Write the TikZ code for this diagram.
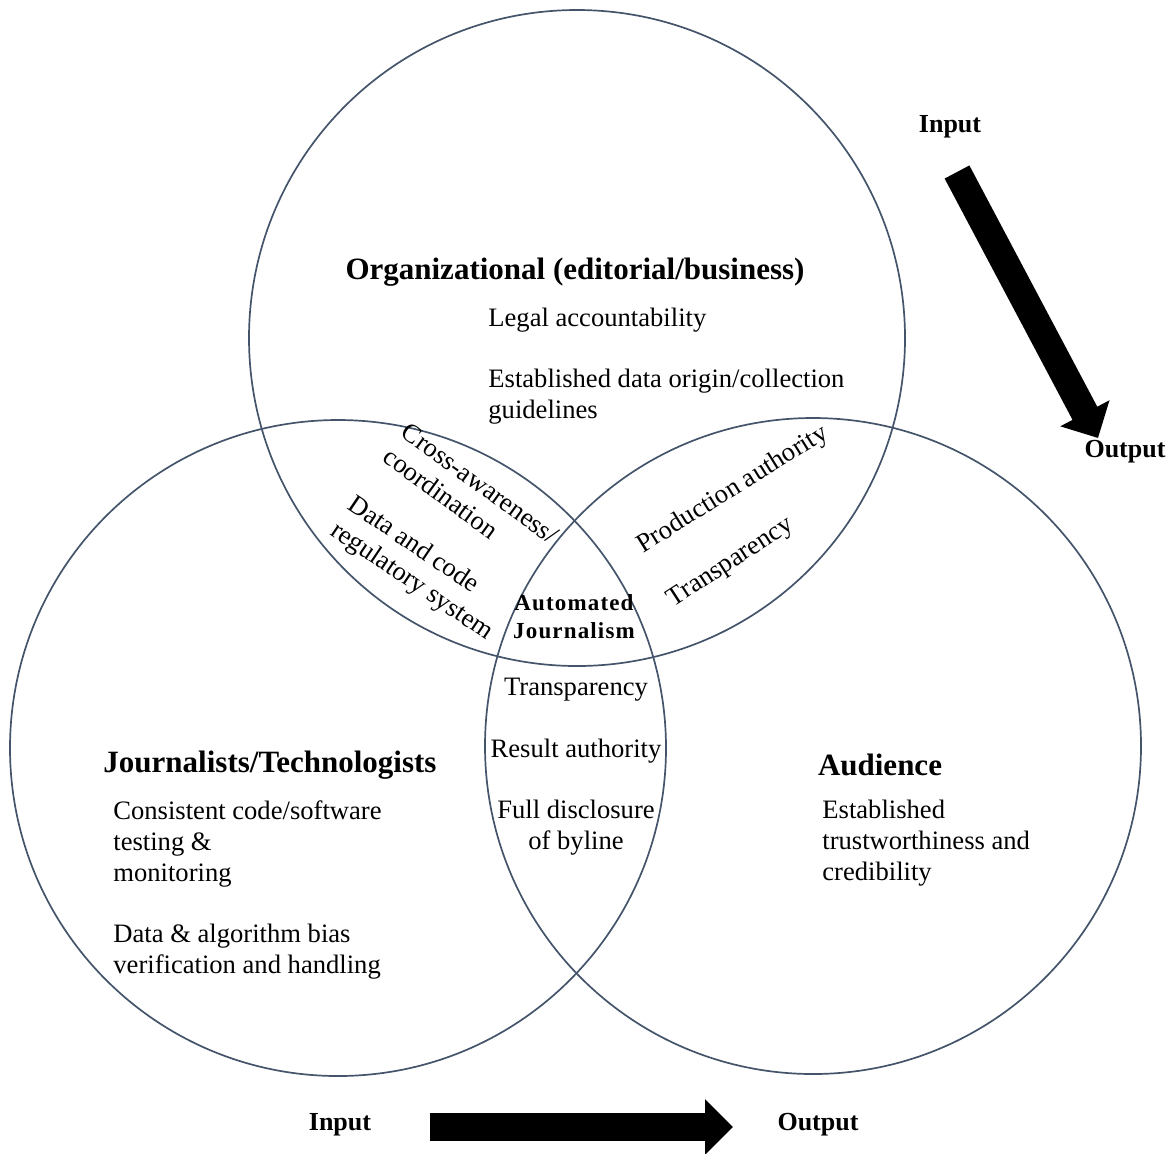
\documentclass[tikz,border=0pt]{standalone}
\usepackage{fontspec}
\setmainfont{Liberation Serif}
\usepackage{tikz}
\usetikzlibrary{arrows.meta,positioning}
\definecolor{venncol}{HTML}{44546A}
\tikzset{
	venn/.style={draw=venncol, line width=0.85pt},
	head/.style={font=\fontsize{15.5}{18}\selectfont\bfseries, inner sep=0pt},
	io/.style={font=\fontsize{13}{15}\selectfont\bfseries, inner sep=0pt},
	item/.style={font=\fontsize{13.3}{15.5}\selectfont, align=left, inner sep=0pt},
	mid/.style={item, align=center},
	core/.style={font=\fontsize{11.5}{14}\selectfont\bfseries\addfontfeature{LetterSpace=5},
		align=center, inner sep=0pt},
	bigarrow/.style={line width=14pt, -{Triangle[length=14pt,width=27pt]}}
}

\begin{document}
\begin{tikzpicture}[x=0.5pt, y=-0.5pt]
   \useasboundingbox (0,0) rectangle (1176,1153);
   \coordinate (org) at (577,338);
   \coordinate (jou) at (338,748);
   \coordinate (aud) at (813,746);
   \foreach \c in {org,jou,aud}
      \draw[venn] (\c) circle[radius=164pt];

   \node[head] (orgT) at (575,272) {Organizational (editorial/business)};
   \node[item, anchor=north west] (legal) at (488,308) {Legal accountability};
   \node[item, anchor=north west] (origin) at (488,369) {Established data origin/collection\\guidelines};

   \node[head] (jouT) at (270,765) {Journalists/Technologists};
   \node[item, anchor=north west] (testing) at (113,800) {Consistent code/software\\testing \&\\monitoring};
   \node[item, anchor=north west] (bias) at (113,924) {Data \& algorithm bias\\verification and handling};

   \node[head] (audT) at (880,765) {Audience};
   \node[item, anchor=north west] (trust) at (822,800) {Established\\trustworthiness and\\credibility};

   \node[item, rotate=-36] (cross) at (471,496) {Cross-awareness/\\coordination};
   \node[item, rotate=-34] (regul) at (420,569) {Data and code\\regulatory system};
   \node[item, rotate=32] (prod) at (733,490) {Production authority};
   \node[item, rotate=33] (transO) at (731,563) {Transparency};

   \node[core] (auto) at (574,617) {Automated\\Journalism};
   \node[mid] (transC) at (576,690) {Transparency};
   \node[mid] (result) at (576,751) {Result authority};
   \node[mid] (byline) at (576,828) {Full disclosure\\of byline};

   \node[io] (in1) at (950,127) {Input};
   \node[io] (out1) at (1125,452) {Output};
   \coordinate (a1s) at (957,172);
   \coordinate (a1e) at (1098,438);
   \draw[bigarrow] (a1s) -- (a1e);

   \node[io] (in2) at (340,1125) {Input};
   \node[io] (out2) at (818,1125) {Output};
   \coordinate (a2s) at (430,1127);
   \coordinate (a2e) at (733,1127);
   \draw[bigarrow] (a2s) -- (a2e);
\end{tikzpicture}
\end{document}
